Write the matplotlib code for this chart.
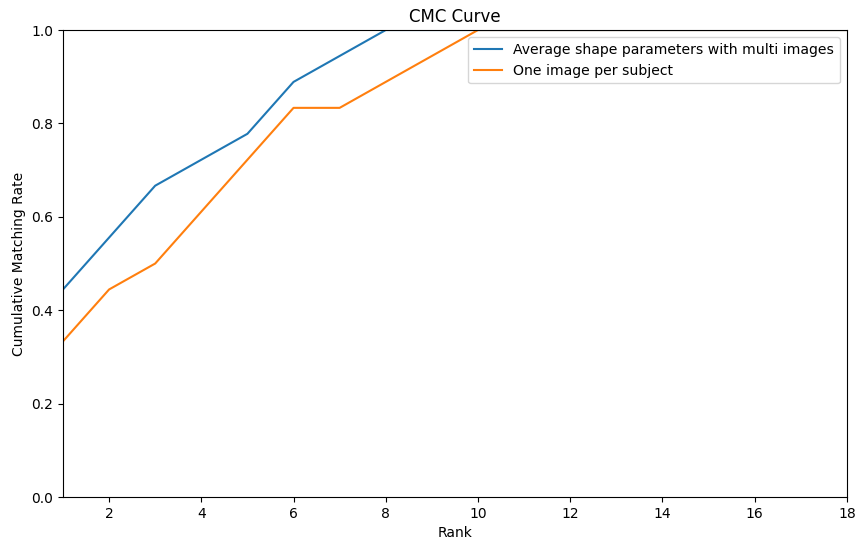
import numpy as np
import matplotlib.pyplot as plt

# rank-k matching rates (out of 18 subjects)
ranks = list(range(1, 19))
avg_shape = [8/18, 10/18, 12/18, 13/18, 14/18, 16/18, 17/18] + [1.0] * 11
one_image = [6/18, 8/18, 9/18, 11/18, 13/18, 15/18, 15/18, 16/18, 17/18] + [1.0] * 9

fig = plt.figure(figsize=(8.58, 5.42), dpi=100)
ax = fig.add_axes([0.0734, 0.083, 0.9136, 0.8616])

ax.plot(ranks, avg_shape, label='Average shape parameters with multi images')
ax.plot(ranks, one_image, label='One image per subject')

ax.set_xlim(1, 18)
ax.set_ylim(0, 1)
ax.set_xticks(np.arange(2, 19, 2))
ax.set_title('CMC Curve')
ax.set_xlabel('Rank')
ax.set_ylabel('Cumulative Matching Rate')
ax.legend(fontsize=10.12)

plt.savefig('out.png', dpi=100)
